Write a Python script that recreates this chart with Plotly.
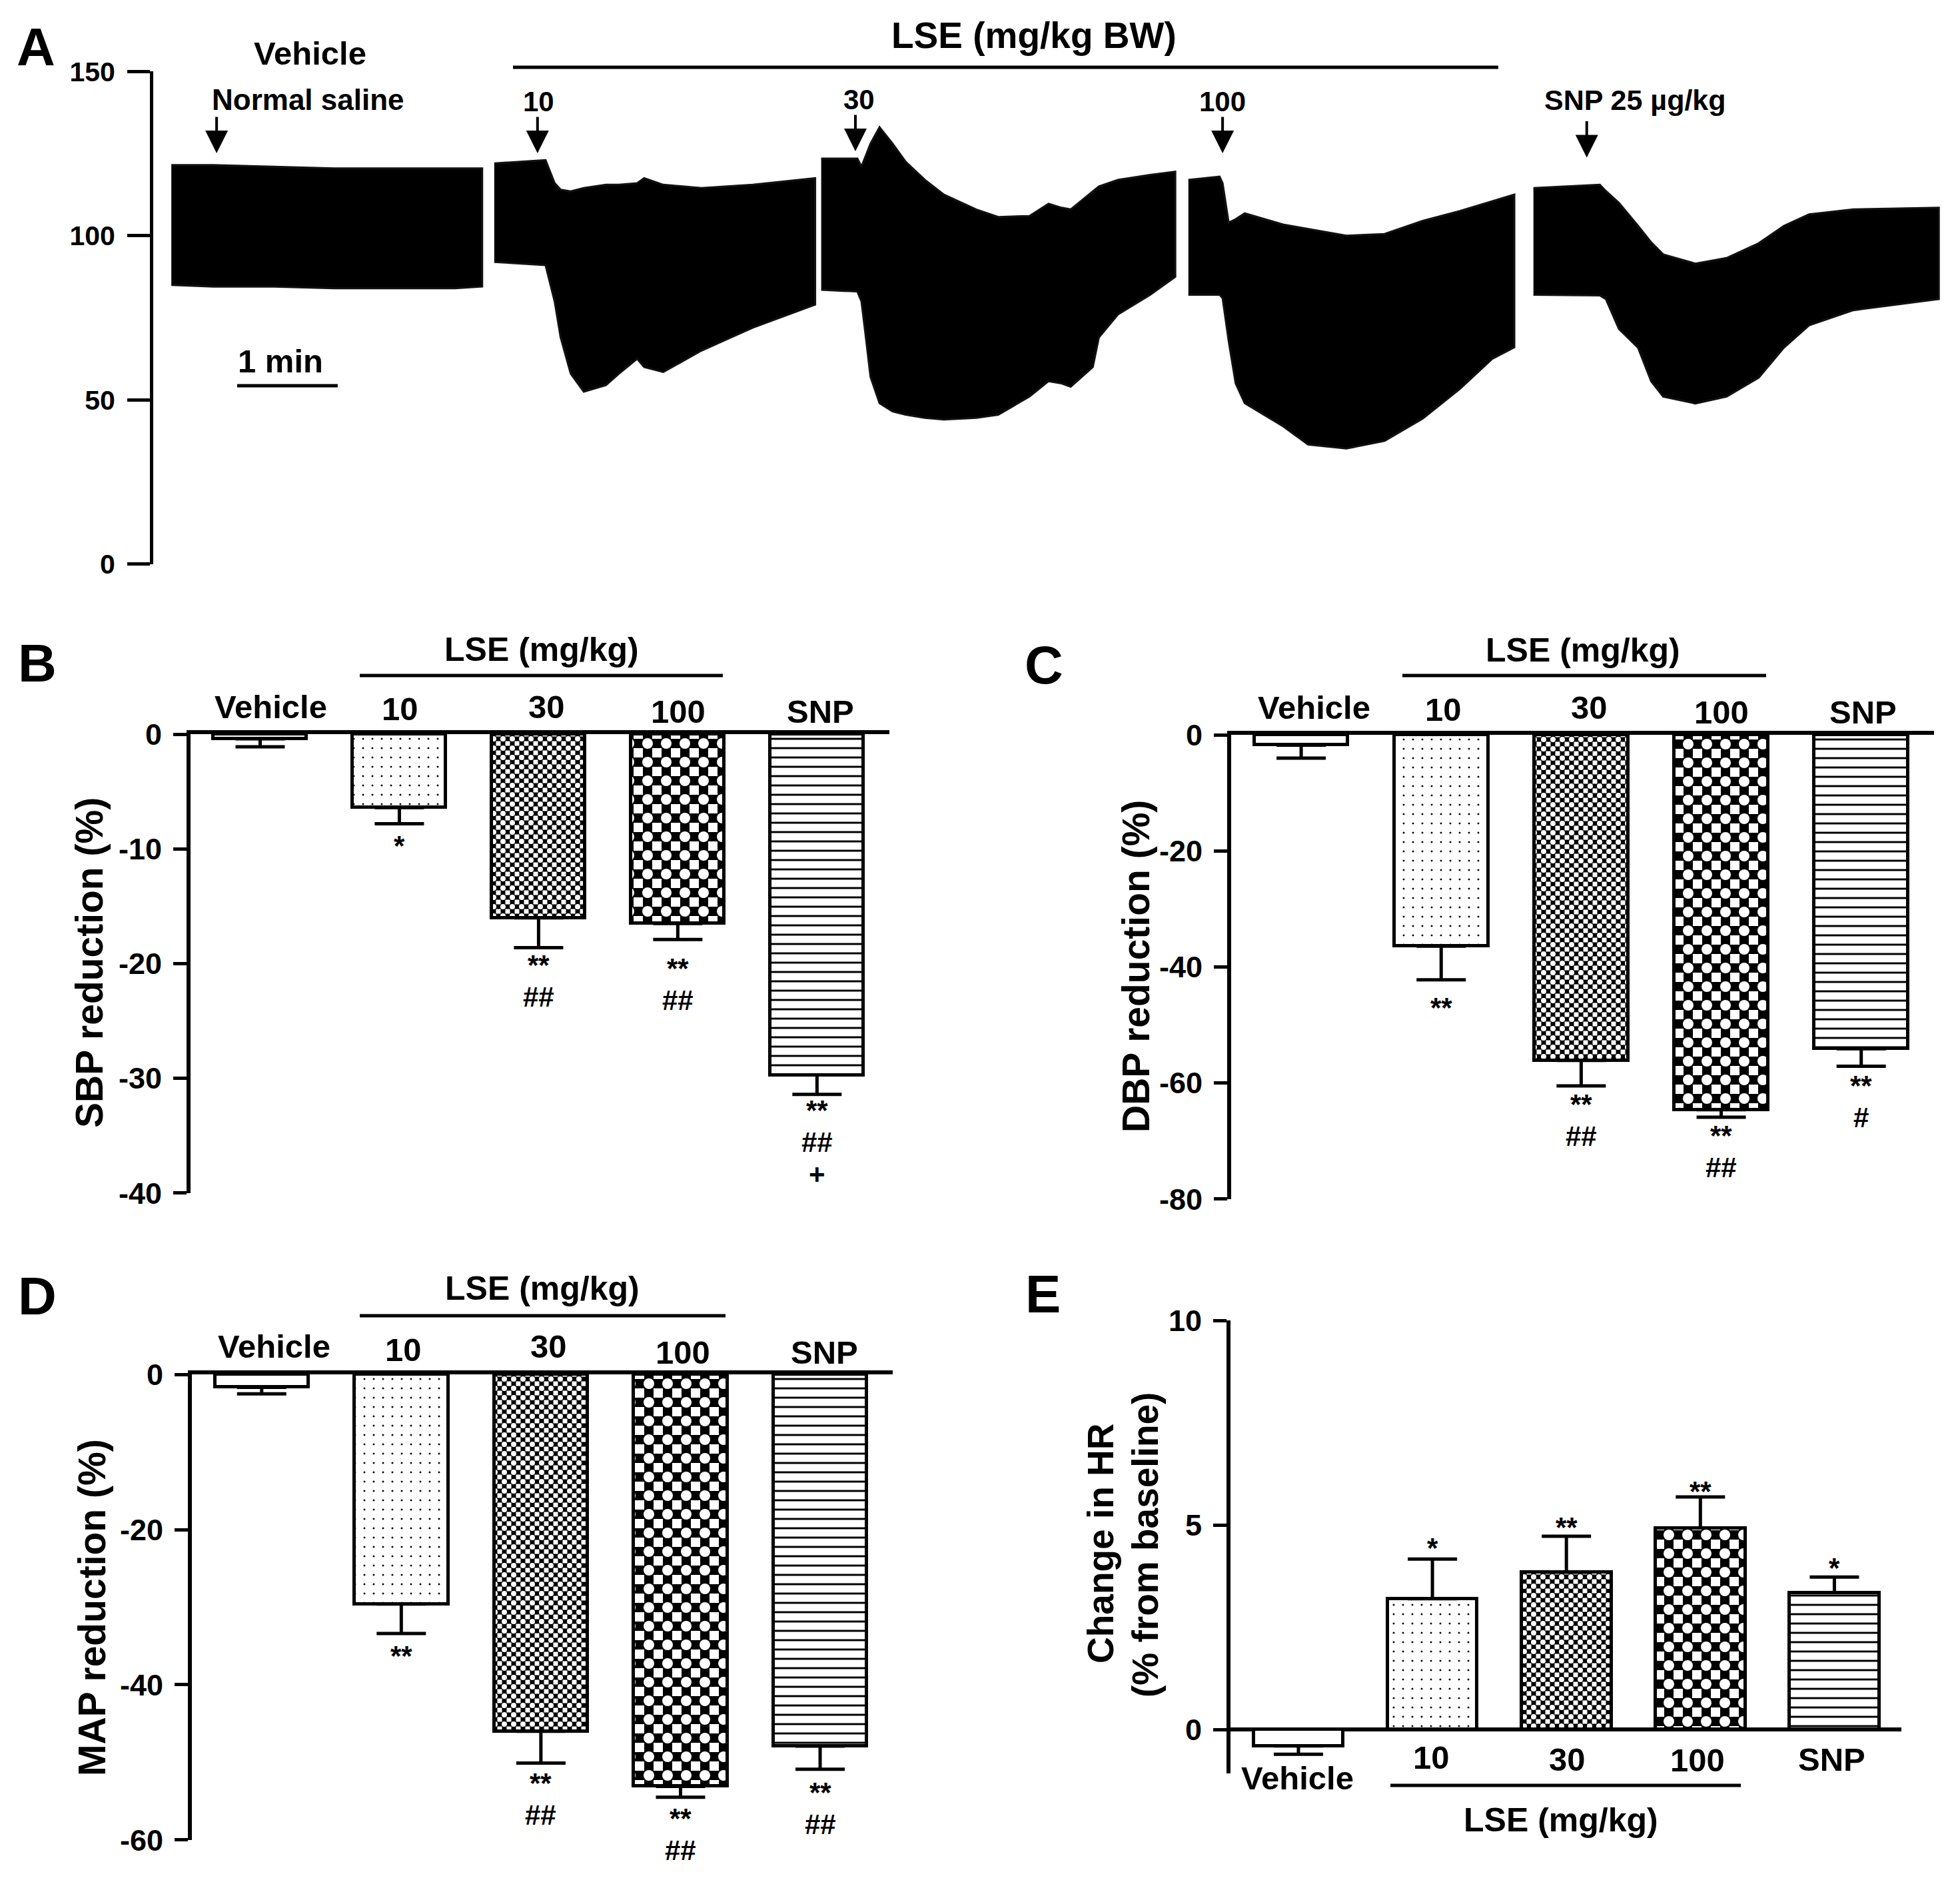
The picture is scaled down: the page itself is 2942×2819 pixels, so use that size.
import plotly.graph_objects as go

W, H = 2942, 2819

# ======================= DATA =======================
CATEGORIES = ["Vehicle", "10", "30", "100", "SNP"]

SBP_MEAN = [-0.4, -6.4, -16.0, -16.5, -29.7]
SBP_SEM = [0.7, 1.4, 2.6, 1.4, 1.7]
DBP_MEAN = [-1.75, -36.4, -56.1, -64.6, -54.1]
DBP_SEM = [2.25, 5.8, 4.4, 1.3, 3.0]
MAP_MEAN = [-1.65, -29.6, -46.0, -53.1, -47.9]
MAP_SEM = [0.85, 3.8, 4.1, 1.4, 3.0]
HR_MEAN = [-0.4, 3.2, 3.85, 4.93, 3.35]
HR_SEM = [0.2, 0.97, 0.88, 0.76, 0.38]

SBP_SIG = [[], ["*"], ["**", "##"], ["**", "##"], ["**", "##", "+"]]
DBP_SIG = [[], ["**"], ["**", "##"], ["**", "##"], ["**", "#"]]
MAP_SIG = [[], ["**"], ["**", "##"], ["**", "##"], ["**", "##"]]
HR_SIG = [[], ["*"], ["**"], ["**"], ["*"]]

SBP_TICKS = [0, -10, -20, -30, -40]
DBP_TICKS = [0, -20, -40, -60, -80]
MAP_TICKS = [0, -20, -40, -60]
HR_TICKS = [0, 5, 10]

# Panel A: blood-pressure trace envelopes (time in min, pressure in mmHg)
SEG1_T = [0.18, 0.6, 1.2, 1.8, 2.4, 3.0, 3.27]
SEG1_UP = [121.5, 121.5, 121, 120.5, 120.5, 120.5, 120.5]
SEG1_LO = [85, 84.5, 84.5, 84, 84, 84, 84.5]

SEG2_T = [3.39, 3.90, 3.99, 4.05, 4.15, 4.28, 4.50, 4.63, 4.81, 4.88, 5.07, 5.45, 5.96, 6.58]
SEG2_UP = [122, 123, 116, 114, 113.5, 114.5, 115.5, 115.5, 116, 117.5, 115.5, 114.5, 115.5, 117.5]
SEG2_LO = [92, 91, 80, 69, 58, 52.5, 54.5, 58, 62.5, 60, 58.5, 65, 72, 79]

SEG3_T = [6.64, 7.00, 7.04, 7.08, 7.13, 7.22, 7.35, 7.48, 7.67, 7.86, 8.18, 8.40, 8.71,
          8.90, 9.03, 9.12, 9.34, 9.40, 9.59, 9.91, 10.16]
SEG3_UP = [123.5, 123.5, 121, 124, 128, 133, 128, 122.5, 117, 112.5, 108, 105.7, 106,
           109.7, 108.5, 108, 113.6, 115, 117, 118.5, 119.5]
SEG3_LO = [83.5, 83, 80, 70, 57, 49, 46.5, 45.5, 44.5, 44, 44.5, 45.5, 51,
           55.7, 55, 54, 60, 69, 76, 82, 87.5]

SEG4_T = [10.29, 10.60, 10.63, 10.69, 10.76, 10.85, 11.23, 11.48, 11.86, 12.24, 12.62, 12.99, 13.31, 13.53]
SEG4_UP = [117, 118, 116, 104, 105, 106.8, 103.4, 102, 100, 100.5, 104.5, 107.5, 110.5, 112.5]
SEG4_LO = [82, 82, 81, 68, 55, 49, 42, 36.4, 35.2, 37.5, 44.3, 53.4, 62.5, 66]

SEG5_T = [13.72, 14.38, 14.44, 14.57, 14.76, 14.89, 15.01, 15.33, 15.64, 15.96, 16.21, 16.46, 16.90, 17.75]
SEG5_UP = [114.5, 115.5, 113.6, 110, 103, 98, 94.3, 91.5, 93.2, 97.7, 103, 106.5, 108, 108.5]
SEG5_LO = [82, 81.8, 80.7, 71.6, 65.9, 55.7, 51, 48.9, 51, 56.8, 65.9, 72.7, 77.3, 80.7]

INJECTION_T = [0.63, 3.82, 6.98, 10.63, 14.25]
INJECTION_LABELS = ["Normal saline", "10", "30", "100", "SNP 25 µg/kg"]
BP_TICKS = [0, 50, 100, 150]
SCALE_BAR_MIN = 1

# ======================= STYLE =======================
FONT = "Liberation Sans, Arial, Helvetica, sans-serif"
LW = 5
CLEAR = "rgba(0,0,0,0)"


def px(x):
    return x / W


def py(y):
    return 1 - y / H


def f(size):
    return dict(family=FONT, size=size, color="black", weight="bold")


fig = go.Figure()
ann = []
shapes = []


def text(t, x, y, size, angle=0, xref="paper", yref="paper", xshift=0, yshift=0):
    ann.append(dict(text=t, x=x, y=y, xref=xref, yref=yref, showarrow=False,
                    xanchor="center", yanchor="middle", font=f(size), textangle=angle,
                    xshift=xshift, yshift=yshift))


def hline(x0, x1, y):
    shapes.append(dict(type="line", xref="paper", yref="paper", x0=px(x0), x1=px(x1),
                       y0=py(y), y1=py(y), line=dict(color="black", width=LW)))


# ---------------- Panel A ----------------
segments = [(SEG1_T, SEG1_UP, SEG1_LO), (SEG2_T, SEG2_UP, SEG2_LO), (SEG3_T, SEG3_UP, SEG3_LO),
            (SEG4_T, SEG4_UP, SEG4_LO), (SEG5_T, SEG5_UP, SEG5_LO)]
for t, up, lo in segments:
    fig.add_trace(go.Scatter(x=t + t[::-1], y=up + lo[::-1], mode="lines", fill="toself",
                             fillcolor="black", line=dict(color="#111111", width=3),
                             xaxis="x", yaxis="y", showlegend=False, hoverinfo="skip"))

A_PX_PER_MIN = 151
A_X0, A_X1 = 230, 2935
fig.update_layout(
    xaxis=dict(domain=[px(A_X0), px(A_X1)], range=[0, (A_X1 - A_X0) / A_PX_PER_MIN],
               visible=False, anchor="y", automargin=False),
    yaxis=dict(domain=[py(847), py(107)], range=[-0.05, 150.05], anchor="x",
               tickvals=BP_TICKS, ticktext=[str(v) for v in BP_TICKS],
               ticks="outside", ticklen=34, tickwidth=LW, automargin=False,
               tickcolor="black", showline=True, linewidth=LW, linecolor="black",
               showgrid=False, zeroline=False, tickfont=f(41), ticklabelstandoff=10),
)

ARROW_TIP = [125.1, 125.1, 125.7, 125.1, 123.8]
for tt, tip in zip(INJECTION_T, ARROW_TIP):
    ann.append(dict(x=tt, y=tip, xref="x", yref="y", ax=0, ay=-56, showarrow=True,
                    arrowhead=2, arrowsize=1.7, arrowwidth=4, arrowcolor="black", text=""))

LABEL_POS_A = [(463, 150, 44), (809, 153, 42), (1289, 150, 42), (1835, 153, 42), (2454, 150, 43)]
for lab, (x, y, s) in zip(INJECTION_LABELS, LABEL_POS_A):
    text(lab, px(x), py(y), s)
text("Vehicle", px(465), py(80), 49)
text("LSE (mg/kg BW)", px(1552), py(53), 55)
hline(770, 2249, 101)
text("1 min", px(421), py(542), 49)
shapes.append(dict(type="line", xref="x", yref="y", x0=0.834, x1=0.834 + SCALE_BAR_MIN,
                   y0=54.3, y1=54.3, line=dict(color="black", width=LW)))

# ---------------- Bar panels ----------------
# fills are built from 3 overlaid layers: the checkerboards are XOR(vertical, horizontal stripes)
LAYERS = [
    dict(color="white", line=LW,
         shape=["", ".", "|", "|", "-"], size=[10, 14, 14, 28, 14],
         sol=[0.1, 0.036, 0.5, 0.5, 0.21], fg="black", bg="white"),
    dict(color=CLEAR, line=0,
         shape=["", "", "-", "-", ""], size=[10, 10, 14, 28, 10],
         sol=[0.1, 0.1, 0.5, 0.5, 0.1], fg="black", bg=CLEAR),
    dict(color=CLEAR, line=LW,
         shape=["", "", ".", ".", ""], size=[10, 10, 14, 28, 10],
         sol=[0.1, 0.1, 0.256, 0.256, 0.1], fg="white", bg=CLEAR),
]
SIG_FONT = 42
SIG_BOX = 48
GLYPH_CORR = 9  # asterisk sits high in its line box


def bar_panel(n, means, sems, sigs, sig_offsets, xdom, ydom, yrange, ytickvals, positive=False):
    xa, ya = f"x{n}", f"y{n}"
    if positive:
        arr = [s if m >= 0 else 0 for m, s in zip(means, sems)]
        arrm = [s if m < 0 else 0 for m, s in zip(means, sems)]
    else:
        arr = [0] * len(means)
        arrm = sems
    for k, L in enumerate(LAYERS):
        err = dict(type="data", symmetric=False, array=arr, arrayminus=arrm,
                   color="black", thickness=LW, width=37, visible=(k == len(LAYERS) - 1))
        fig.add_trace(go.Bar(
            x=list(range(len(means))), y=means, width=0.67, xaxis=xa, yaxis=ya,
            showlegend=False, hoverinfo="skip",
            marker=dict(color=L["color"], line=dict(color="black", width=L["line"]),
                        pattern=dict(shape=L["shape"], size=L["size"], solidity=L["sol"],
                                     fgcolor=L["fg"], bgcolor=L["bg"], fillmode="replace")),
            error_y=err,
        ))
    fig.update_layout(**{
        f"xaxis{n}": dict(domain=[px(xdom[0]), px(xdom[1])], range=[-0.5, 4.52], anchor=ya,
                          showline=not positive, side="top", linewidth=LW + 1, linecolor="black",
                          ticks="", showticklabels=False, showgrid=False, zeroline=False,
                          automargin=False),
        f"yaxis{n}": dict(domain=[py(ydom[1]), py(ydom[0])], range=yrange, anchor=xa,
                          tickvals=ytickvals, ticktext=[str(v) for v in ytickvals],
                          ticks="outside", ticklen=20, tickwidth=LW, automargin=False,
                          tickcolor="black", showline=True, linewidth=LW + 1, linecolor="black",
                          showgrid=False, zeroline=positive, zerolinecolor="black",
                          zerolinewidth=LW + 1, tickfont=f(45), ticklabelstandoff=8),
    })
    for i, (labs, offs) in enumerate(zip(sigs, sig_offsets)):
        if not labs:
            continue
        end = means[i] + (arr[i] if positive and means[i] >= 0 else -arrm[i])
        want = [o + (GLYPH_CORR if "*" in lab else 0) * (-1 if positive else 1)
                for lab, o in zip(labs, offs)]
        mids = []
        for w in want:
            mids.append(max(w, mids[-1] + SIG_BOX) if mids else w)
        shift = (mids[-1] - want[-1]) / 2
        for lab, m in zip(labs, mids):
            m = m - shift
            text(lab, i, end, SIG_FONT, xref=xa, yref=ya, yshift=(m if positive else -m))


# B
bar_panel(2, SBP_MEAN, SBP_SEM, SBP_SIG, [[], [24], [26, 66], [41, 85], [28, 68, 107]],
          (286, 1335), (1102, 1791), [-40.01, 0.01], SBP_TICKS)
# C
bar_panel(3, DBP_MEAN, DBP_SEM, DBP_SIG, [[], [33], [26, 67], [26, 67], [30, 68]],
          (1848, 2903), (1103, 1800), [-80.02, 0.02], DBP_TICKS)
# D
bar_panel(4, MAP_MEAN, MAP_SEM, MAP_SIG, [[], [24], [27, 72], [33, 69], [36, 72]],
          (288, 1340), (2063, 2762), [-60.015, 0.015], MAP_TICKS)
# E
bar_panel(5, HR_MEAN, HR_SEM, HR_SIG, [[], [26], [22], [17], [23]],
          (1847, 2854), (1982, 2662), [-1.07, 10.005], HR_TICKS, positive=True)
fig.layout.xaxis5.range = [-0.507, 4.50]

# category labels
CAT_POS = {
    "B": [(406, 1061), (600, 1064), (820, 1061), (1018, 1068), (1231, 1068)],
    "C": [(1972, 1062), (2166, 1065), (2385, 1062), (2584, 1069), (2796, 1069)],
    "D": [(411, 2021), (605, 2026), (823, 2021), (1025, 2030), (1237, 2030)],
    "E": [(1947, 2669), (2148, 2638), (2352, 2641), (2548, 2642), (2749, 2641)],
}
for key, pos in CAT_POS.items():
    for lab, (x, y) in zip(CATEGORIES, pos):
        text(lab, px(x), py(y), 49)

# LSE group labels
for (tx, ty), (l0, l1, ly) in [((813, 975), (540, 1085, 1014)),
                               ((2376, 976), (2105, 2651, 1014)),
                               ((814, 1934), (540, 1089, 1975)),
                               ((2343, 2732), (2087, 2613, 2680))]:
    text("LSE (mg/kg)", px(tx), py(ty), 50)
    hline(l0, l1, ly)

# y-axis titles
text("SBP reduction (%)", px(134), py(1445), 57, angle=-90)
text("DBP reduction (%)", px(1705), py(1451), 57, angle=-90)
text("MAP reduction (%)", px(138), py(2413), 57, angle=-90)
text("Change in HR", px(1652), py(2317), 55, angle=-90)
text("(% from baseline)", px(1719), py(2319), 55, angle=-90)

# panel letters
for lab, (x, y) in zip("ABCDE", [(54, 70), (56, 996), (1567, 998), (56, 1946), (1565, 1943)]):
    text(lab, px(x), py(y), 80)

fig.update_layout(width=W, height=H, autosize=False,
                  margin=dict(l=0, r=0, t=0, b=0, pad=0, autoexpand=False),
                  paper_bgcolor="white", plot_bgcolor="white", annotations=ann, shapes=shapes,
                  barmode="overlay", bargap=0, showlegend=False)

fig.write_html("out.html", config={"displayModeBar": False},
               post_script="document.body.style.margin='0px';")
